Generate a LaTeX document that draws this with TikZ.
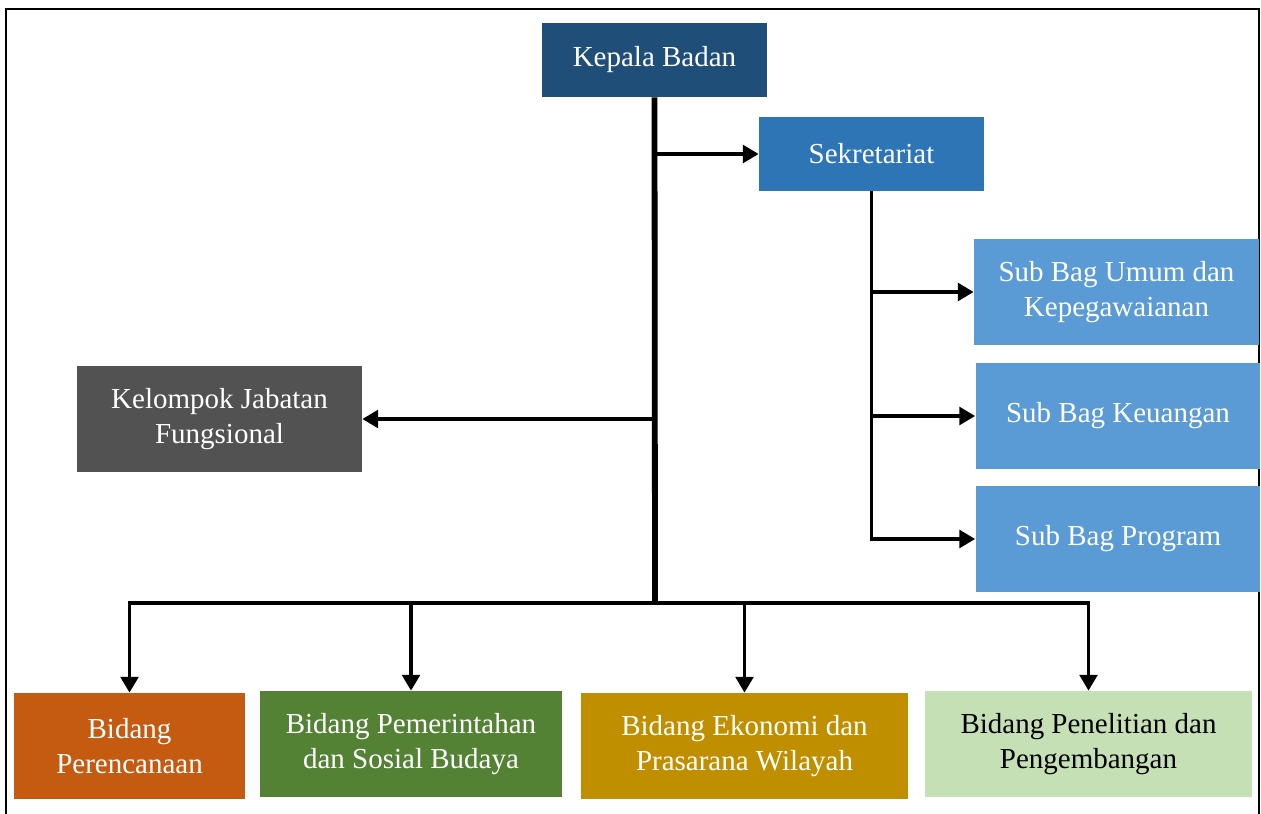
\documentclass[tikz,border=0pt]{standalone}
\usepackage{fontspec}
\setmainfont{Liberation Serif}
\usepackage{tikz}
\usetikzlibrary{arrows.meta}
\definecolor{kepalablue}{HTML}{1F4E79}
\definecolor{sekblue}{HTML}{2E75B6}
\definecolor{subblue}{HTML}{5B9BD5}
\definecolor{fungsgray}{HTML}{525252}
\definecolor{renorange}{HTML}{C55A11}
\definecolor{pemgreen}{HTML}{548235}
\definecolor{ekogold}{HTML}{BF8F00}
\definecolor{litgreen}{HTML}{C5E0B4}

\begin{document}
\begin{tikzpicture}
                            [x=0.02cm, y=-0.02cm,
                             every node/.style={rectangle, inner sep=0pt, align=center, text=white,
                                                font=\fontsize{16.5}{19.5}\selectfont},
                             topbox/.style={minimum width=4.5cm, minimum height=1.48cm},
                             subbox/.style={fill=subblue, minimum width=5.7cm, minimum height=2.12cm},
                             bidbox/.style={minimum height=2.12cm},
                             trunk/.style={draw, line width=3.3pt},
                             link/.style={draw, line width=2.1pt, -{Triangle[length=9pt, width=10pt]}}]

                            \useasboundingbox (0,0) rectangle (1261,814);
                            \draw[line width=0.9pt] (6,814) -- (6,9) -- (1259,9) -- (1259,814);

                            \node[topbox, fill=kepalablue] (kepala) at (654.5,60) {Kepala Badan};
                            \node[topbox, fill=sekblue] (sekretariat) at (871.5,154) {Sekretariat};
                            \node[subbox] (umum) at (1116.5,292) {Sub Bag Umum dan\\Kepegawaianan};
                            \node[subbox] (keuangan) at (1118,416) {Sub Bag Keuangan};
                            \node[subbox] (program) at (1118,539) {Sub Bag Program};
                            \node[subbox, fill=fungsgray] (fungsional) at (219.5,419) {Kelompok Jabatan\\Fungsional};

                            \node[bidbox, fill=renorange, minimum width=4.62cm] (perencanaan) at (129.5,746) {Bidang\\Perencanaan};
                            \node[bidbox, fill=pemgreen, minimum width=6.04cm] (pemerintahan) at (411,744) {Bidang Pemerintahan\\dan Sosial Budaya};
                            \node[bidbox, fill=ekogold, minimum width=6.54cm] (ekonomi) at (744.5,746) {Bidang Ekonomi dan\\Prasarana Wilayah};
                            \node[bidbox, fill=litgreen, minimum width=6.54cm, text=black] (penelitian) at (1088.5,744) {Bidang Penelitian dan\\Pengembangan};

                            \coordinate (hub) at (655,603);

                            \draw[trunk] (kepala.south) -- (hub);
                            \draw[link] (kepala.south |- sekretariat.west) -- (sekretariat.west);
                            \draw[link] (kepala.south |- fungsional.east) -- (fungsional.east);

                            \draw[link] (sekretariat.south) |- (program.west);
                            \draw[link] (sekretariat.south |- umum.west) -- (umum.west);
                            \draw[link] (sekretariat.south |- keuangan.west) -- (keuangan.west);

                            \draw[link] (hub) -| (perencanaan.north);
                            \draw[link] (hub) -| (penelitian.north);
                            \draw[link] (hub -| pemerintahan.north) -- (pemerintahan.north);
                            \draw[link] (hub -| ekonomi.north) -- (ekonomi.north);
                        \end{tikzpicture}
\end{document}
